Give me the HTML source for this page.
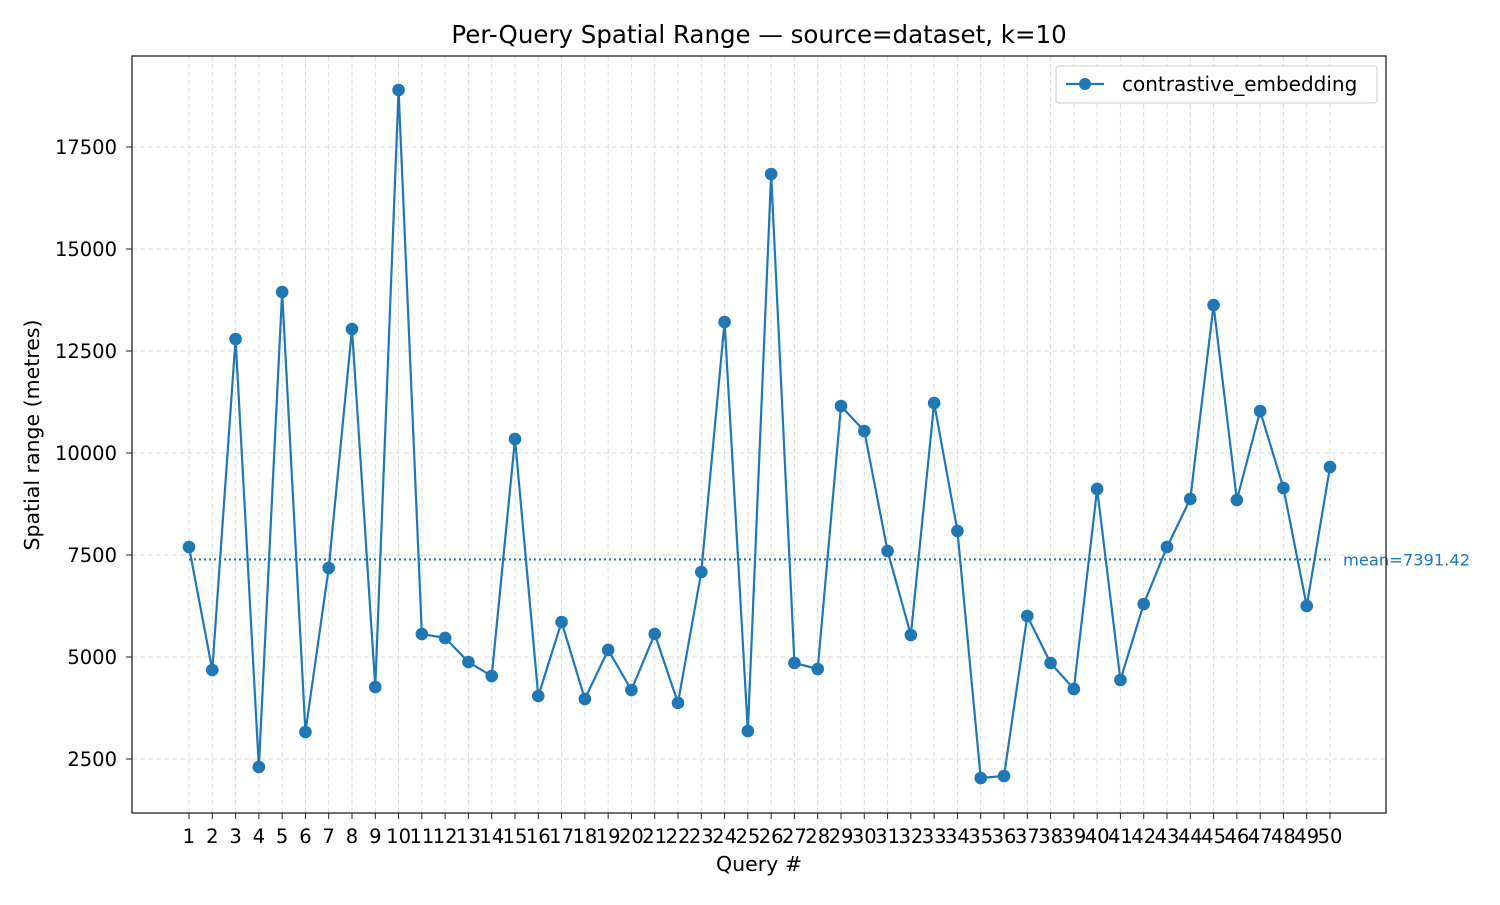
<!DOCTYPE html>
<html><head><meta charset="utf-8"><style>
body{margin:0;background:#fff;}
svg text{font-family:"DejaVu Sans","Liberation Sans",sans-serif;}
</style></head><body>
<svg id="chart" width="1500" height="900" xmlns="http://www.w3.org/2000/svg">
<rect width="1500" height="900" fill="#fff"/>
<g id="grid"></g><g id="axes"></g><g id="series"></g>
<rect x="132" y="56" width="1254" height="757" fill="none" stroke="#222" stroke-width="1.3"/>
<text x="759" y="43" text-anchor="middle" font-size="24.5">Per-Query Spatial Range — source=dataset, k=10</text>
<text x="759" y="871" text-anchor="middle" font-size="20.5">Query #</text>
<text transform="translate(39,435) rotate(-90)" text-anchor="middle" font-size="20.5">Spatial range (metres)</text>
<g>
<rect x="1056" y="66" width="321" height="37" rx="3" fill="#fff" stroke="#ccc"/>
<line x1="1066" y1="84" x2="1104" y2="84" stroke="#1f77b4" stroke-width="2.2"/>
<circle cx="1085" cy="84" r="6" fill="#1f77b4"/>
<text x="1122" y="91" font-size="20">contrastive_embedding</text>
</g>
</svg>
<script>
const queries=[];for(let i=1;i<=50;i++)queries.push(i);
const values=[7696,4681,12794,2304,13946,3162,7181,13039,4265,18897,5564,5466,4877,4534,10343,4044,5858,3971,5172,4191,5564,3873,7083,13211,3186,16838,4853,4706,11152,10539,7598,5539,11225,8088,2034,2083,6005,4853,4216,9118,4436,6299,7696,8873,13627,8848,11029,9142,6250,9657];
const yTicks=[2500,5000,7500,10000,12500,15000,17500];
const meanValue=7391.42;
const NS="http://www.w3.org/2000/svg";
const X=q=>189+(q-1)*(1330-189)/49;
const Y=v=>861-v*(612/15000);
function mk(t,a,p){const e=document.createElementNS(NS,t);for(const k in a)e.setAttribute(k,a[k]);p.appendChild(e);return e;}
const grid=document.getElementById('grid'),axes=document.getElementById('axes'),ser=document.getElementById('series');
queries.forEach(q=>{
 const gl=mk('line',{x1:X(q),x2:X(q),y1:56,y2:813,stroke:'#ddd','stroke-dasharray':'5,3'},grid);
 
 
 mk('line',{x1:X(q),x2:X(q),y1:813,y2:819,stroke:'#222'},axes);
 const t=mk('text',{x:X(q),y:843,'text-anchor':'middle','font-size':'19.5'},axes);t.textContent=q;
 
 
});
yTicks.forEach(v=>{
 const gl=mk('line',{x1:132,x2:1386,y1:Y(v),y2:Y(v),stroke:'#ddd','stroke-dasharray':'5,3'},grid);
 
 
 mk('line',{x1:126,x2:132,y1:Y(v),y2:Y(v),stroke:'#222'},axes);
 const t=mk('text',{x:117,y:Y(v)+7,'text-anchor':'end','font-size':'19.5'},axes);t.textContent=v;
 
 
});
const ml=mk('line',{x1:X(1),x2:X(50),y1:Y(meanValue),y2:Y(meanValue),stroke:'#1f77b4','stroke-width':2.2,'stroke-dasharray':'2,3'},ser);


const mt=mk('text',{x:1343,y:Y(meanValue)+6,'font-size':'16.3',fill:'#1f77b4'},ser);mt.textContent='mean='+meanValue.toFixed(2);


const pl=mk('polyline',{points:values.map((v,i)=>X(queries[i])+','+Y(v)).join(' '),fill:'none',stroke:'#1f77b4','stroke-width':2.2},ser);


values.forEach((v,i)=>{
 const c=mk('circle',{cx:X(queries[i]),cy:Y(v),r:6.3,fill:'#1f77b4'},ser);
 
 
});
</script>
</body></html>
